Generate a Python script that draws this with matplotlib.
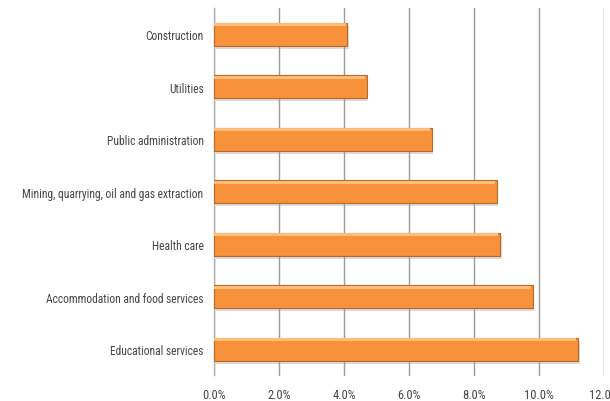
import matplotlib.pyplot as plt
from matplotlib.ticker import FuncFormatter

# データ
categories = [
    "Construction",
    "Utilities",
    "Public administration",
    "Mining, quarrying, oil and gas extraction",
    "Health care",
    "Accommodation and food services",
    "Educational services",
]
values = [4.1, 4.7, 6.7, 8.7, 8.8, 9.8, 11.2]
x_ticks = [0, 2, 4, 6, 8, 10, 12]

# 細身のフォント
plt.rcParams["font.family"] = ["Roboto Condensed", "DejaVu Sans"]

fig = plt.figure(figsize=(6.1, 4.02), dpi=100)
ax = fig.add_axes([214 / 610, 25.5 / 402, 390 / 610, 367.5 / 402])

y = list(range(len(categories)))
h = 0.44

# 影
ax.barh([v + 0.06 for v in y], values, height=h, color="#9a9a9a", alpha=0.35,
        left=0.05, zorder=2)
# 本体
ax.barh(y, values, height=h, color="#F7923A", edgecolor="#B8692A", linewidth=0.8,
        zorder=3)
# 上側のハイライト
ax.barh([v - h / 2 + 0.04 for v in y], [v - 0.05 for v in values], height=0.05,
        color="#FBBE78", linewidth=0, zorder=4)

ax.set_ylim(len(categories) - 0.5, -0.5)
ax.set_yticks(y)
ax.set_yticklabels(categories)
ax.set_xlim(0, 12)
ax.set_xticks(x_ticks)
ax.xaxis.set_major_formatter(FuncFormatter(lambda v, p: f"{v:.1f}%"))

ax.grid(axis="x", color="#9c9c9c", linewidth=1.0, zorder=0)
ax.set_axisbelow(True)
for s in ["top", "right", "bottom"]:
    ax.spines[s].set_visible(False)
ax.spines["left"].set_color("#b0b0b0")
ax.spines["left"].set_linewidth(1.0)

ax.tick_params(axis="both", length=0, colors="#454545")
ax.tick_params(axis="y", pad=7.5, labelsize=8.3)
ax.tick_params(axis="x", pad=9, labelsize=9)

fig.savefig("out.png", dpi=100)
